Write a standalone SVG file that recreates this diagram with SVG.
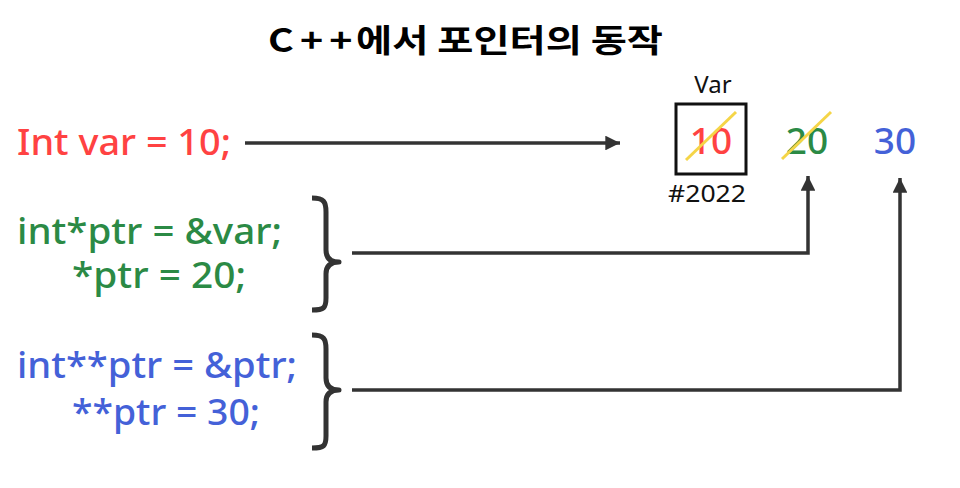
<svg xmlns="http://www.w3.org/2000/svg" width="960" height="488" viewBox="0 0 960 488">
<style>
.code{font-family:"Noto Sans","Open Sans",sans-serif;font-weight:500;font-size:37px}
.red{fill:#ff4242}
.green{fill:#2b8a45}
.blue{fill:#4461d8}
.lbl{font-family:"Noto Sans","Open Sans",sans-serif;font-size:24px;fill:#111}
.conn{fill:none;stroke:#333;stroke-width:3.5}
.brace{fill:none;stroke:#333;stroke-width:5;stroke-linejoin:round}
.strike{stroke:#f5d547;stroke-width:3}
</style>
<defs>
<marker id="ah" viewBox="0 0 10 10" refX="10" refY="5" markerWidth="4.2" markerHeight="4.2" markerUnits="strokeWidth" orient="auto">
<path d="M0,0 L10,5 L0,10 z" fill="#333"/>
</marker>
</defs>
<rect width="960" height="488" fill="#fff"/>
<text x="268" y="52" font-family="'Noto Sans CJK KR',sans-serif" font-weight="700" font-size="32" fill="#000" textLength="395" lengthAdjust="spacingAndGlyphs"><tspan>C</tspan><tspan dx="5">+</tspan><tspan dx="5">+</tspan><tspan dx="3">에서 포인터의 동작</tspan></text>

<g id="n-var-decl"><text class="code red" x="17" y="155" textLength="214" lengthAdjust="spacingAndGlyphs">Int var = 10;</text></g>
<g id="n-ptr">
<text class="code green" x="17" y="244" textLength="265" lengthAdjust="spacingAndGlyphs">int*ptr = &amp;var;</text>
<text class="code green" x="72" y="288" textLength="174" lengthAdjust="spacingAndGlyphs">*ptr = 20;</text>
<path class="brace" d="M312,198 C324,198 326,202 326,212 L326,250 C326,258 330,262 339,262 C330,262 326,266 326,274 L326,298 C326,308 324,310 312,310"/>
</g>
<g id="n-pptr">
<text class="code blue" x="17" y="378" textLength="280" lengthAdjust="spacingAndGlyphs">int**ptr = &amp;ptr;</text>
<text class="code blue" x="72" y="425" textLength="188" lengthAdjust="spacingAndGlyphs">**ptr = 30;</text>
<path class="brace" d="M312,335 C324,335 326,339 326,349 L326,378 C326,386 330,390 339,390 C330,390 326,394 326,402 L326,436 C326,446 324,448 312,448"/>
</g>
<g id="n-mem">
<text class="lbl" x="713" y="93" text-anchor="middle">Var</text>
<rect x="676" y="104" width="70" height="70" fill="none" stroke="#111" stroke-width="3"/>
<text class="code red" x="711" y="154" text-anchor="middle">10</text>
<line class="strike" x1="686" y1="160" x2="736" y2="112"/>
<text class="lbl" x="707" y="202" text-anchor="middle" textLength="78" lengthAdjust="spacingAndGlyphs">#2022</text>
</g>
<g id="n-20">
<text class="code green" x="807" y="154" text-anchor="middle">20</text>
<line class="strike" x1="782" y1="159" x2="831" y2="112"/>
</g>
<g id="n-30">
<text class="code blue" x="895" y="154" text-anchor="middle">30</text>
</g>
<g id="connectors">
<line class="conn" x1="245" y1="143" x2="620" y2="143" marker-end="url(#ah)"/>
<polyline class="conn" points="352,253 808,253 808,176" marker-end="url(#ah)"/>
<polyline class="conn" points="352,390 900,390 900,178" marker-end="url(#ah)"/>
</g>
</svg>
